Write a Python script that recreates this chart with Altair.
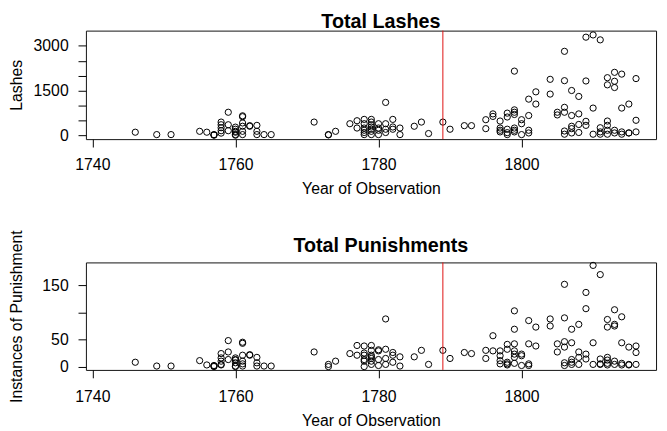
import altair as alt
import pandas as pd

years = [
    1746, 1749, 1751, 1755, 1756,
    1757, 1757, 1757,
    1758, 1758, 1758, 1758, 1758,
    1759, 1759, 1759,
    1760, 1760, 1760, 1760, 1760, 1760,
    1761, 1761, 1761, 1761, 1761, 1761,
    1762, 1762,
    1763, 1763, 1763,
    1764, 1765, 1771,
    1773, 1773,
    1774, 1776,
    1777, 1777,
    1778, 1778, 1778, 1778, 1778, 1778,
    1779, 1779, 1779, 1779, 1779, 1779, 1779,
    1780, 1780, 1780, 1780,
    1781, 1781, 1781, 1781,
    1782, 1782, 1782,
    1783, 1783,
    1785, 1786, 1787, 1789, 1790, 1792, 1793,
    1795, 1795,
    1796, 1796,
    1797, 1797, 1797, 1797,
    1798, 1798, 1798, 1798, 1798,
    1799, 1799, 1799, 1799, 1799, 1799, 1799,
    1800, 1800, 1800,
    1801, 1801, 1801, 1801,
    1802, 1802,
    1804, 1804,
    1805, 1805,
    1806, 1806, 1806, 1806, 1806, 1806,
    1807, 1807, 1807, 1807, 1807,
    1808, 1808, 1808, 1808,
    1809, 1809, 1809, 1809,
    1810, 1810, 1810,
    1811, 1811, 1811, 1811,
    1812, 1812, 1812, 1812, 1812, 1812,
    1813, 1813, 1813, 1813, 1813,
    1814, 1814, 1814, 1814,
    1815, 1815, 1815,
    1816, 1816, 1816,
]
lashes = [
    100, 20, 20, 130, 100,
    20, 10, 0,
    440, 350, 250, 150, 70,
    770, 350, 150,
    270, 200, 130, 100, 20, 0,
    650, 620, 410, 300, 130, 20,
    320, 300,
    330, 130, 20,
    20, 20, 440,
    20, 10,
    130, 385,
    485, 240,
    530, 385, 240, 165, 90, 20,
    530, 440, 350, 275, 200, 130, 20,
    385, 240, 165, 20,
    1100, 385, 200, 90,
    530, 275, 200,
    240, 20,
    300, 440, 55, 440, 200, 320, 320,
    520, 220,
    715, 630,
    475, 240, 165, 110,
    740, 610, 200, 85, 20,
    2150, 850, 770, 695, 240, 165, 110,
    520, 385, 20,
    1210, 660, 165, 75,
    1455, 1045,
    1875, 1380,
    770, 680,
    2815, 1830, 935, 770, 140, 33,
    1500, 660, 300, 220, 75,
    1300, 715, 360, 90,
    3290, 1820, 465, 330,
    3365, 910, 33,
    3200, 250, 110, 33,
    1930, 1690, 475, 330, 165, 33,
    2110, 1810, 1600, 165, 75,
    2050, 910, 110, 33,
    1045, 75, 75,
    1900, 500, 110,
]
punishments = [
    8, 1, 1, 11, 3,
    2, 1, 0,
    24, 16, 10, 4, 3,
    48, 27, 13,
    16, 13, 12, 7, 1, 0,
    45, 43, 21, 10, 5, 1,
    22, 21,
    17, 7, 1,
    1, 1, 27,
    4, 0,
    10, 24,
    39, 21,
    38, 25, 21, 13, 10, 0,
    39, 30, 21, 18, 15, 10, 4,
    31, 29, 13, 2,
    88, 32, 15, 4,
    26, 21, 8,
    18, 1,
    18, 30, 4, 30, 15, 26, 24,
    30, 15,
    57, 29,
    29, 20, 11, 5,
    41, 32, 8, 5, 3,
    103, 69, 42, 29, 23, 17, 6,
    23, 20, 2,
    85, 42, 5, 2,
    73, 38,
    88, 75,
    42, 27,
    152, 90, 46, 36, 7, 2,
    69, 44, 13, 8, 4,
    78, 27, 17, 4,
    137, 107, 23, 14,
    187, 44, 4,
    170, 14, 5, 4,
    87, 73, 17, 12, 6, 3,
    105, 78, 75, 10, 4,
    92, 44, 6, 3,
    36, 4, 3,
    38, 26, 4,
]

year_ticks = [1740, 1760, 1780, 1800]
lash_ticks = [0, 500, 1000, 1500, 2000, 2500, 3000]
pun_ticks = [0, 50, 100, 150]
marker_year = [1789]

df = pd.DataFrame({"year": years, "lashes": lashes, "punishments": punishments})
mark_df = pd.DataFrame({"year": marker_year})

FONT = "Liberation Sans"
x_scale = alt.Scale(domain=[1739.1, 1818.8], nice=False, zero=False)


def panel(field, title, ytitle, domain, ticks, label_expr, height, xlp, xtp, toff):
    pts = alt.Chart(df).mark_point(shape="circle", filled=False, color="black",
                                   size=40, strokeWidth=1, opacity=1).encode(
        x=alt.X("year:Q", scale=x_scale,
                axis=alt.Axis(values=year_ticks, format="d",
                              title="Year of Observation",
                              labelPadding=xlp, titlePadding=xtp)),
        y=alt.Y(f"{field}:Q", scale=alt.Scale(domain=domain, nice=False, zero=False),
                axis=alt.Axis(values=ticks, format="d", labelExpr=label_expr,
                              title=ytitle, labelPadding=10, titlePadding=8,
                              minExtent=54, maxExtent=54)),
    )
    rule = alt.Chart(mark_df).mark_rule(color="#e01010", strokeWidth=1).encode(
        x=alt.X("year:Q", scale=x_scale)
    )
    return alt.layer(pts, rule).properties(
        width=578, height=height,
        title=alt.TitleParams(title, fontSize=20, fontWeight="bold", font=FONT,
                              anchor="middle", offset=toff, dx=10, color="black"),
    )


top = panel("lashes", "Total Lashes", "Lashes", [-132, 3510], lash_ticks,
            "datum.value % 1500 == 0 ? datum.label : ''", 110, 10, 8, -2)
bottom = panel("punishments", "Total Punishments", "Instances of Punishment",
               [-6.2, 192.5], pun_ticks,
               "datum.value == 100 ? '' : datum.label", 109, 11, 8, -27)

chart = alt.vconcat(top, bottom, spacing=125, bounds="flush").properties(
    padding={"left": 0, "top": 0, "right": 2, "bottom": 0},
    background="white",
).configure_view(
    stroke="#111", strokeWidth=1
).configure_axis(
    grid=False, domain=False, tickSize=8, tickColor="black", tickWidth=1,
    labelFont=FONT, labelFontSize=16, labelColor="black",
    titleFont=FONT, titleFontSize=16, titleFontWeight="normal", titleColor="black",
)

chart.save("out.html", embed_options={"renderer": "svg", "actions": False})
